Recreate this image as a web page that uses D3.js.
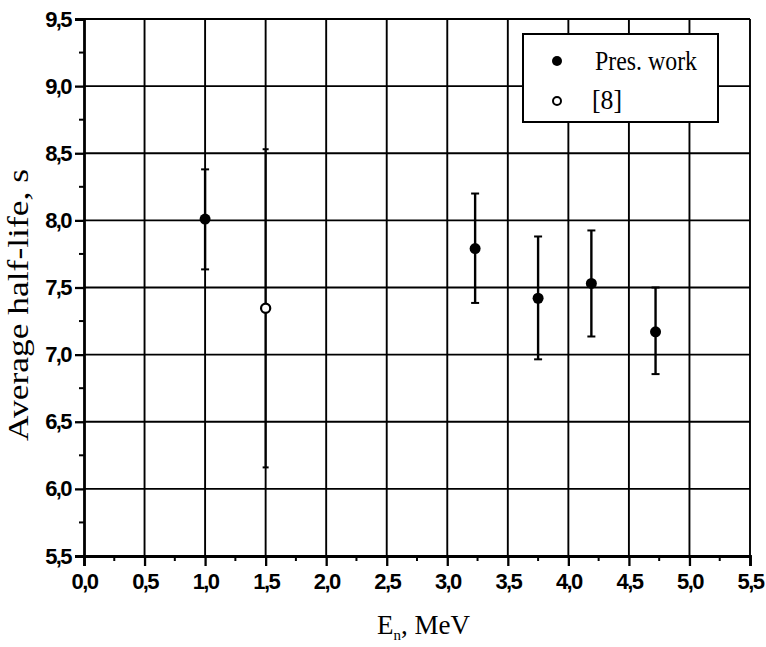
<!DOCTYPE html>
<html>
<head>
<meta charset="utf-8">
<script src="https://cdn.jsdelivr.net/npm/d3@7"></script>
<style>
  html, body { margin: 0; padding: 0; background: #fff; }
  svg { display: block; }
</style>
</head>
<body>
<div id="chart"></div>
<script>
// ---- data ----
const presX  = [1.0, 3.23, 3.75, 4.19, 4.72];
const presY  = [8.01, 7.79, 7.42, 7.53, 7.17];
const presLo = [7.635, 7.385, 6.965, 7.135, 6.855];
const presHi = [8.38, 8.20, 7.88, 7.925, 7.50];

const refX  = [1.5];
const refY  = [7.345];
const refLo = [6.16];
const refHi = [8.53];

const xTicks = [0,0.5,1,1.5,2,2.5,3,3.5,4,4.5,5,5.5];
const yTicks = [5.5,6,6.5,7,7.5,8,8.5,9,9.5];
const legendLabels = ["Pres. work", "[8]"];

// ---- layout ----
const W = 766, H = 647;
const x = d3.scaleLinear().domain([0, 5.5]).range([84, 750]);
const y = d3.scaleLinear().domain([5.5, 9.5]).range([556, 19]);
const fmt = v => d3.format(".1f")(v).replace(".", ",");

const svg = d3.select("#chart").append("svg")
  .attr("width", W).attr("height", H);

// grid
const g = svg.append("g");
g.selectAll("line.vg").data(xTicks.filter(v => v > 0)).join("line")
  .attr("x1", d => x(d)).attr("x2", d => x(d))
  .attr("y1", y(5.5)).attr("y2", y(9.5))
  .attr("stroke", "#000").attr("stroke-width", 1.9);
g.selectAll("line.hg").data(yTicks.filter(v => v > 5.5)).join("line")
  .attr("y1", d => y(d)).attr("y2", d => y(d))
  .attr("x1", x(0)).attr("x2", x(5.5))
  .attr("stroke", "#000").attr("stroke-width", 1.9);

// axes
const xAxis = d3.axisBottom(x).tickValues(xTicks).tickFormat(fmt).tickSize(10).tickPadding(7);
const yAxis = d3.axisLeft(y).tickValues(yTicks).tickFormat(fmt).tickSize(9).tickPadding(4);

const gx = svg.append("g").attr("transform", `translate(0,${y(5.5)})`).call(xAxis);
const gy = svg.append("g").attr("transform", `translate(${x(0)},0)`).call(yAxis);
[gx, gy].forEach(a => {
  a.attr("font-size", null).attr("font-family", null);
  a.select(".domain").attr("stroke", "#000").attr("stroke-width", 2.8);
  a.selectAll(".tick line").attr("stroke", "#000").attr("stroke-width", 2.3);
  a.selectAll(".tick text")
    .attr("fill", "#000")
    .style("font-family", "'Liberation Sans', Arial, sans-serif")
    .style("font-weight", "bold")
    .style("font-size", "22px")
    .attr("letter-spacing", "-1.6");
});

// minor ticks
const xMinor = d3.range(0.25, 5.5, 0.5);
const yMinor = d3.range(5.75, 9.5, 0.5);
svg.append("g").selectAll("line").data(xMinor).join("line")
  .attr("x1", d => x(d)).attr("x2", d => x(d))
  .attr("y1", y(5.5)).attr("y2", y(5.5) + 5)
  .attr("stroke", "#000").attr("stroke-width", 2);
svg.append("g").selectAll("line").data(yMinor).join("line")
  .attr("y1", d => y(d)).attr("y2", d => y(d))
  .attr("x1", x(0) - 5).attr("x2", x(0))
  .attr("stroke", "#000").attr("stroke-width", 2);

// error bars
function errorBars(xs, lo, hi, cap, sw) {
  const eg = svg.append("g");
  const idx = d3.range(xs.length);
  eg.selectAll("line.v").data(idx).join("line")
    .attr("x1", i => x(xs[i])).attr("x2", i => x(xs[i]))
    .attr("y1", i => y(lo[i])).attr("y2", i => y(hi[i]))
    .attr("stroke", "#000").attr("stroke-width", sw);
  eg.selectAll("line.lo").data(idx).join("line")
    .attr("x1", i => x(xs[i]) - cap).attr("x2", i => x(xs[i]) + cap)
    .attr("y1", i => y(lo[i])).attr("y2", i => y(lo[i]))
    .attr("stroke", "#000").attr("stroke-width", 2);
  eg.selectAll("line.hi").data(idx).join("line")
    .attr("x1", i => x(xs[i]) - cap).attr("x2", i => x(xs[i]) + cap)
    .attr("y1", i => y(hi[i])).attr("y2", i => y(hi[i]))
    .attr("stroke", "#000").attr("stroke-width", 2);
}
errorBars(presX, presLo, presHi, 4, 2.4);
errorBars(refX, refLo, refHi, 3, 2);

// markers
svg.append("g").selectAll("circle").data(d3.range(presX.length)).join("circle")
  .attr("cx", i => x(presX[i])).attr("cy", i => y(presY[i]))
  .attr("r", 5.5).attr("fill", "#000");
svg.append("g").selectAll("circle").data(d3.range(refX.length)).join("circle")
  .attr("cx", i => x(refX[i])).attr("cy", i => y(refY[i]))
  .attr("r", 4.6).attr("fill", "#fff").attr("stroke", "#000").attr("stroke-width", 2.2);

// legend
const lg = svg.append("g");
lg.append("rect").attr("x", 523).attr("y", 34).attr("width", 195).attr("height", 88)
  .attr("fill", "#fff").attr("stroke", "#000").attr("stroke-width", 2);
lg.append("circle").attr("cx", 557).attr("cy", 61).attr("r", 5).attr("fill", "#000");
lg.append("circle").attr("cx", 557).attr("cy", 101).attr("r", 4).attr("fill", "#fff")
  .attr("stroke", "#000").attr("stroke-width", 2);
lg.append("text").attr("x", 595).attr("y", 70).text(legendLabels[0])
  .attr("textLength", 102).attr("lengthAdjust", "spacingAndGlyphs")
  .style("font-family", "'Liberation Serif', 'Times New Roman', serif").style("font-size", "27px");
lg.append("text").attr("x", 592).attr("y", 109).text(legendLabels[1])
  .attr("textLength", 30).attr("lengthAdjust", "spacingAndGlyphs")
  .style("font-family", "'Liberation Serif', 'Times New Roman', serif").style("font-size", "27px");

// axis titles
const xt = svg.append("text").attr("x", 377).attr("y", 634)
  .style("font-family", "'Liberation Serif', 'Times New Roman', serif").style("font-size", "27px");
xt.append("tspan").text("E");
xt.append("tspan").attr("dy", 6).style("font-size", "15px").text("n");
xt.append("tspan").attr("dy", -6).text(", MeV");

svg.append("text")
  .attr("transform", "translate(28,305) rotate(-90)")
  .attr("text-anchor", "middle")
  .attr("textLength", 272).attr("lengthAdjust", "spacingAndGlyphs")
  .style("font-family", "'Liberation Serif', 'Times New Roman', serif").style("font-size", "29px")
  .text("Average half-life, s");
</script>
</body>
</html>
